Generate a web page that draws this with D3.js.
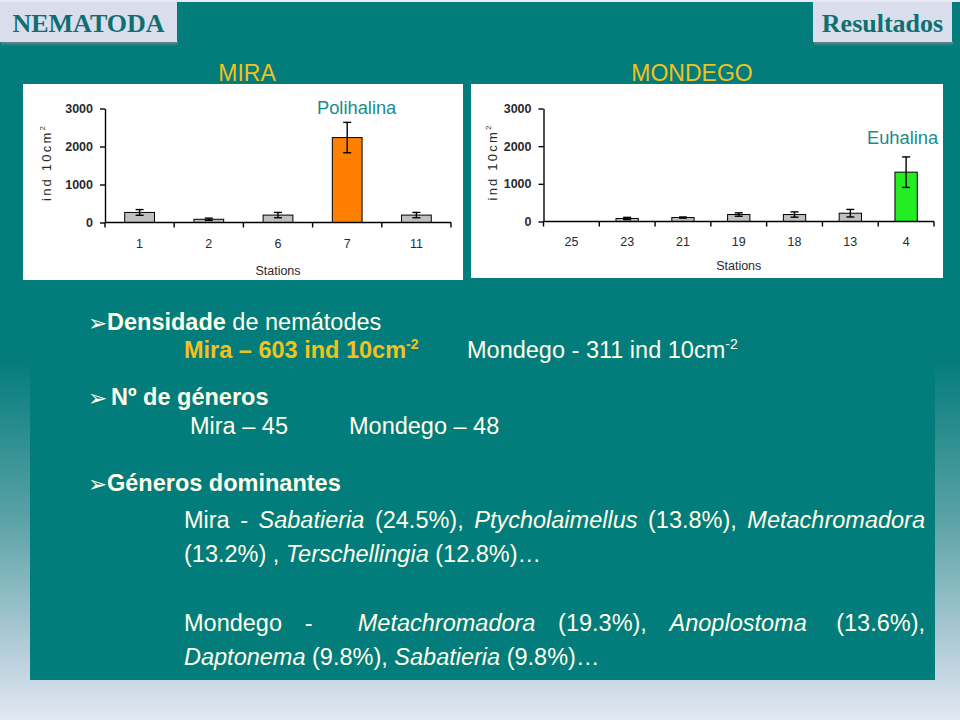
<!DOCTYPE html>
<html>
<head>
<meta charset="utf-8">
<script src="https://cdn.jsdelivr.net/npm/d3@7"></script>
<style>
  html, body { margin: 0; padding: 0; background: #ffffff; }
  svg { display: block; }
</style>
</head>
<body>
<svg id="slide" width="960" height="720"></svg>
<script>
// ---------------- DATA ----------------
const miraStations = ["1", "2", "6", "7", "11"];
const miraValues   = [265, 85, 195, 2235, 195];
const miraErrors   = [75, 30, 70, 400, 70];
const miraHighlight = "7";

const mondegoStations = ["25", "23", "21", "19", "18", "13", "4"];
const mondegoValues   = [0, 80, 105, 185, 185, 220, 1310];
const mondegoErrors   = [0, 30, 15, 45, 70, 100, 405];
const mondegoHighlight = "4";

const yTickValues = [0, 1000, 2000, 3000];
const yDomain = [0, 3000];

// ---------------- STYLE ----------------
const TEAL = "#037c7c";
const CREAM = "#ffffea";
const YELLOW = "#f2c21c";
const SANS = "'Liberation Sans', Arial, sans-serif";
const SERIF = "'Liberation Serif', 'Times New Roman', serif";

const svg = d3.select("#slide");
const defs = svg.append("defs");

// background gradient (teal -> light)
const bg = defs.append("linearGradient").attr("id", "bgGrad")
  .attr("x1", 0).attr("y1", 0).attr("x2", 0).attr("y2", 1);
bg.append("stop").attr("offset", "0").attr("stop-color", TEAL);
bg.append("stop").attr("offset", "0.50").attr("stop-color", TEAL);
bg.append("stop").attr("offset", "0.72").attr("stop-color", "#5aa2a6");
bg.append("stop").attr("offset", "0.88").attr("stop-color", "#a9c8d3");
bg.append("stop").attr("offset", "1").attr("stop-color", "#e2e8f2");

const shadow = defs.append("linearGradient").attr("id", "shadowGrad")
  .attr("x1", 0).attr("y1", 0).attr("x2", 0).attr("y2", 1);
shadow.append("stop").attr("offset", "0").attr("stop-color", "#7a8a8a");
shadow.append("stop").attr("offset", "1").attr("stop-color", TEAL);

svg.append("rect").attr("x", 0).attr("y", 0).attr("width", 960).attr("height", 720)
  .attr("fill", "url(#bgGrad)");
// main panel
svg.append("rect").attr("x", 30).attr("y", 0).attr("width", 905).attr("height", 680)
  .attr("fill", TEAL);
// thin light strip at the top
svg.append("rect").attr("x", 0).attr("y", 0).attr("width", 960).attr("height", 2)
  .attr("fill", "#e6eaf2");

// ---------------- HEADER TABS ----------------
function tab(x, w, label) {
  svg.append("rect").attr("x", x + 1).attr("y", 41).attr("width", w).attr("height", 5)
    .attr("fill", "url(#shadowGrad)");
  svg.append("rect").attr("x", x).attr("y", 2).attr("width", w).attr("height", 40)
    .attr("fill", "#d9ddec");
  svg.append("text").attr("x", x + w / 2).attr("y", 32)
    .attr("text-anchor", "middle")
    .attr("font-family", SERIF).attr("font-weight", "bold").attr("font-size", 26)
    .attr("fill", "#0f6f70").text(label);
}
tab(0, 177, "NEMATODA");
tab(813, 139, "Resultados");

// ---------------- TITLES ----------------
svg.append("text").attr("x", 247).attr("y", 81).attr("text-anchor", "middle")
  .attr("font-family", SANS).attr("font-size", 23).attr("fill", YELLOW).text("MIRA");
svg.append("text").attr("x", 692).attr("y", 81).attr("text-anchor", "middle")
  .attr("font-family", SANS).attr("font-size", 23).attr("fill", YELLOW).text("MONDEGO");

// ---------------- CHARTS ----------------
function drawChart(cfg) {
  const g = svg.append("g");
  g.append("rect").attr("x", cfg.box[0]).attr("y", cfg.box[1])
    .attr("width", cfg.box[2]).attr("height", cfg.box[3]).attr("fill", "#ffffff");

  const x = d3.scaleBand().domain(cfg.stations).range(cfg.xRange).padding(0);
  const y = d3.scaleLinear().domain(yDomain).range(cfg.yRange);
  const bw = x.bandwidth() * cfg.barFrac;
  const data = cfg.stations.map((s, i) => ({ s, v: cfg.values[i], e: cfg.errors[i] }));

  // bars
  g.selectAll("rect.bar").data(data.filter(d => d.v > 0)).join("rect")
    .attr("class", "bar")
    .attr("x", d => x(d.s) + (x.bandwidth() - bw) / 2)
    .attr("y", d => y(d.v))
    .attr("width", bw)
    .attr("height", d => y(0) - y(d.v))
    .attr("fill", d => d.s === cfg.highlight ? cfg.hiColor : "#c0c0c0")
    .attr("stroke", "#000").attr("stroke-width", 1);

  // error bars
  const eb = g.selectAll("g.err").data(data.filter(d => d.v > 0)).join("g").attr("class", "err")
    .attr("stroke", "#000").attr("stroke-width", 1.4);
  const cx = d => x(d.s) + x.bandwidth() / 2;
  eb.append("line").attr("x1", cx).attr("x2", cx)
    .attr("y1", d => y(d.v + d.e)).attr("y2", d => y(Math.max(0, d.v - d.e)));
  eb.append("line").attr("x1", d => cx(d) - 4).attr("x2", d => cx(d) + 4)
    .attr("y1", d => y(d.v + d.e)).attr("y2", d => y(d.v + d.e));
  eb.append("line").attr("x1", d => cx(d) - 4).attr("x2", d => cx(d) + 4)
    .attr("y1", d => y(Math.max(0, d.v - d.e))).attr("y2", d => y(Math.max(0, d.v - d.e)));

  // y axis
  const yAxis = d3.axisLeft(y).tickValues(yTickValues).tickFormat(d3.format("d"))
    .tickSize(5).tickSizeOuter(0).tickPadding(7);
  const ya = g.append("g").attr("transform", `translate(${cfg.xRange[0]},0)`).call(yAxis);
  ya.select(".domain").attr("stroke", "#000").attr("stroke-width", 1.4);
  ya.selectAll(".tick line").attr("stroke", "#000").attr("stroke-width", 1.4);
  ya.selectAll(".tick text").attr("font-family", SANS).attr("font-size", 12.5)
    .attr("font-weight", "bold").attr("fill", "#2a2a2a");

  // x axis: line, boundary ticks, centred labels
  const x0 = cfg.xRange[0], x1 = cfg.xRange[1], y0 = y(0);
  g.append("line").attr("x1", x0).attr("x2", x1).attr("y1", y0).attr("y2", y0)
    .attr("stroke", "#000").attr("stroke-width", 1.4);
  const bounds = cfg.stations.map(s => x(s)).concat([x1]);
  g.selectAll("line.xt").data(bounds).join("line").attr("class", "xt")
    .attr("x1", d => d).attr("x2", d => d).attr("y1", y0).attr("y2", y0 + 5)
    .attr("stroke", "#000").attr("stroke-width", 1.4);
  g.selectAll("text.xl").data(cfg.stations).join("text").attr("class", "xl")
    .attr("x", s => x(s) + x.bandwidth() / 2).attr("y", y0 + cfg.xLabelDy)
    .attr("text-anchor", "middle").attr("font-family", SANS).attr("font-size", 12.5)
    .attr("fill", "#2a2a2a").text(s => s);

  // axis titles
  g.append("text").attr("x", (x0 + x1) / 2).attr("y", cfg.stationsY).attr("text-anchor", "middle")
    .attr("font-family", SANS).attr("font-size", 12.5).attr("fill", "#2a2a2a").text("Stations");
  const yl = g.append("text")
    .attr("transform", `translate(${cfg.yLabelX},${(y(0) + y(3000)) / 2 - 2}) rotate(-90)`)
    .attr("text-anchor", "middle").attr("font-family", SANS).attr("font-size", 13)
    .attr("fill", "#2a2a2a").attr("letter-spacing", 2.2);
  yl.append("tspan").text("ind 10cm");
  yl.append("tspan").attr("font-size", 8).attr("dy", -6).attr("letter-spacing", 0).text("2");

  // salinity label
  g.append("text").attr("x", cfg.note[0]).attr("y", cfg.note[1])
    .attr("font-family", SANS).attr("font-size", 18.3).attr("fill", "#1a8c8c").text(cfg.note[2]);
}

drawChart({
  box: [23, 84, 440, 196],
  stations: miraStations, values: miraValues, errors: miraErrors,
  highlight: miraHighlight, hiColor: "#ff8000",
  xRange: [105, 451], yRange: [222.5, 108.5], barFrac: 0.43,
  xLabelDy: 25.5, stationsY: 275, yLabelX: 51,
  note: [317, 114, "Polihalina"]
});
drawChart({
  box: [471, 84, 472, 194],
  stations: mondegoStations, values: mondegoValues, errors: mondegoErrors,
  highlight: mondegoHighlight, hiColor: "#22ee22",
  xRange: [543.5, 934], yRange: [221.5, 108.5], barFrac: 0.4,
  xLabelDy: 24.5, stationsY: 270, yLabelX: 497,
  note: [867, 144, "Euhalina"]
});

// ---------------- TEXT BLOCK ----------------
const FS = 23.5;
function line(x, y) {
  return svg.append("text").attr("x", x).attr("y", y)
    .attr("font-family", SANS).attr("font-size", FS).attr("fill", CREAM);
}
function arrow(x, y) {
  svg.append("text").attr("x", x).attr("y", y)
    .attr("font-family", "'DejaVu Sans', sans-serif").attr("font-size", 23)
    .attr("fill", CREAM).text("\u27A2");
}

// Densidade
arrow(88, 331);
let t = line(107, 330);
t.append("tspan").attr("font-weight", "bold").text("Densidade");
t.append("tspan").text(" de nemátodes");

t = line(184, 358).attr("font-weight", "bold").attr("fill", YELLOW);
t.append("tspan").text("Mira \u2013 603 ind 10cm");
t.append("tspan").attr("font-size", 14).attr("dy", -9).text("-2");

t = line(467, 358);
t.append("tspan").text("Mondego - 311 ind 10cm");
t.append("tspan").attr("font-size", 14).attr("dy", -9).text("-2");

// Nº de géneros
arrow(88, 406);
line(111, 405).attr("font-weight", "bold").text("N\u00BA de g\u00E9neros");
line(190, 434).text("Mira \u2013 45");
line(349, 434).text("Mondego \u2013 48");

// Géneros dominantes
arrow(88, 492);
line(107, 491).attr("font-weight", "bold").text("G\u00E9neros dominantes");

function justified(words, gaps, x0, x1, y) {
  const nodes = words.map(w => line(0, y).attr("font-style", w.i ? "italic" : "normal").text(w.t));
  const widths = nodes.map(n => n.node().getComputedTextLength());
  const unit = (x1 - x0 - d3.sum(widths)) / d3.sum(gaps);
  let x = x0;
  nodes.forEach((n, i) => {
    n.attr("x", x);
    x += widths[i] + (i < gaps.length ? gaps[i] * unit : 0);
  });
}

justified([
  { t: "Mira" }, { t: "-" }, { t: "Sabatieria", i: true }, { t: "(24.5%)," },
  { t: "Ptycholaimellus", i: true }, { t: "(13.8%)," }, { t: "Metachromadora", i: true }
], [1, 1, 1, 1, 1, 1], 184, 925, 528);

t = line(184, 562);
t.append("tspan").text("(13.2%) , ");
t.append("tspan").attr("font-style", "italic").text("Terschellingia");
t.append("tspan").text(" (12.8%)\u2026");

justified([
  { t: "Mondego" }, { t: "-" }, { t: "Metachromadora", i: true }, { t: "(19.3%)," },
  { t: "Anoplostoma", i: true }, { t: "(13.6%)," }
], [1, 2, 1, 1, 1.3], 184, 925, 631);

t = line(184, 665);
t.append("tspan").attr("font-style", "italic").text("Daptonema");
t.append("tspan").text(" (9.8%), ");
t.append("tspan").attr("font-style", "italic").text("Sabatieria");
t.append("tspan").text(" (9.8%)\u2026");
</script>
</body>
</html>
